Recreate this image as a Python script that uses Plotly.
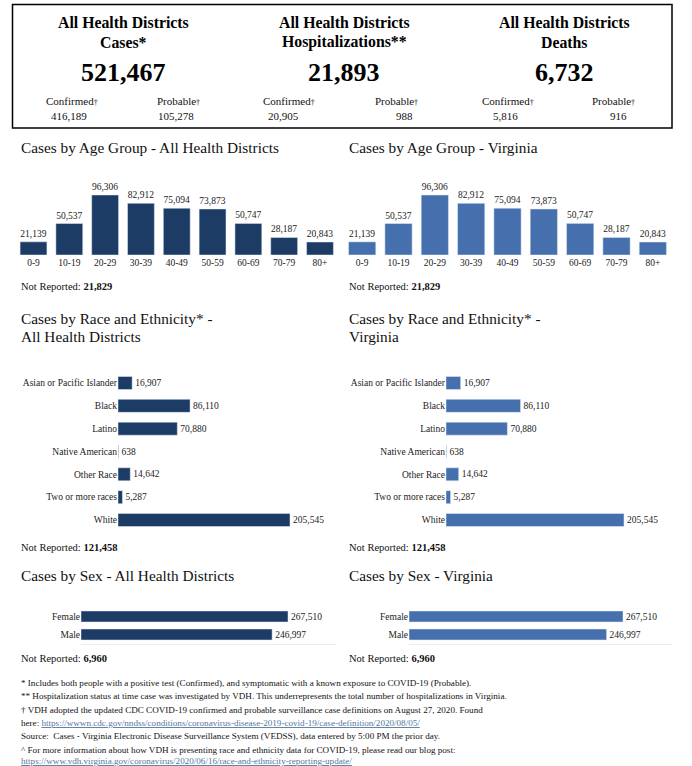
import plotly.graph_objects as go

W, H = 692, 766
FONT = "Liberation Serif, Times New Roman, Tinos, DejaVu Serif, serif"
DARK = "#1c3b65"
MID = "#4670ad"

# ---- data ----
age_groups = ["0-9", "10-19", "20-29", "30-39", "40-49", "50-59", "60-69", "70-79", "80+"]
age_cases = [21139, 50537, 96306, 82912, 75094, 73873, 50747, 28187, 20843]
age_not_reported = 21829

race_groups = ["Asian or Pacific Islander", "Black", "Latino", "Native American",
               "Other Race", "Two or more races", "White"]
race_cases = [16907, 86110, 70880, 638, 14642, 5287, 205545]
race_not_reported = 121458

sex_groups = ["Female", "Male"]
sex_cases = [267510, 246997]
sex_not_reported = 6960

header_titles = [("All Health Districts", "Cases*"),
                 ("All Health Districts", "Hospitalizations**"),
                 ("All Health Districts", "Deaths")]
header_totals = [521467, 21893, 6732]
header_confirmed = [416189, 20905, 5816]
header_probable = [105278, 988, 916]


def px(x):
    return x / W


def py(y):
    return 1 - y / H


fig = go.Figure()
ann = []
tf = dict(family=FONT, size=9.5, color="#222")
TS = 15.3

# ---- age charts ----
for i, (color, xl, xr, title) in enumerate([
        (DARK, 15.6, 337.9, "Cases by Age Group - All Health Districts"),
        (MID, 344, 671, "Cases by Age Group - Virginia")]):
    n = i + 1
    fig.add_trace(go.Bar(x=age_groups, y=age_cases, marker_color=color,
                         texttemplate="%{y:,}", textposition="outside",
                         constraintext="none", cliponaxis=False,
                         textfont=tf, xaxis=f"x{n}", yaxis=f"y{n}",
                         showlegend=False))
    fig.update_layout(**{
        f"xaxis{n}": dict(domain=[px(xl), px(xr)], type="category",
                          tickfont=tf, showline=False, showgrid=False,
                          ticks="", anchor=f"y{n}", fixedrange=True),
        f"yaxis{n}": dict(domain=[py(255), py(185)],
                          range=[0, max(age_cases) * 70 / 60], visible=False,
                          anchor=f"x{n}", fixedrange=True),
    })
    tx = 19 if i == 0 else 347
    ann.append(dict(x=px(tx), y=py(147), text=title, showarrow=False,
                    xanchor="left", yanchor="middle", xref="paper", yref="paper",
                    font=dict(family=FONT, size=TS, color="#111")))
    ann.append(dict(x=px(tx), y=py(286),
                    text=f"Not Reported: <b>{age_not_reported:,}</b>",
                    showarrow=False, xanchor="left", yanchor="middle",
                    xref="paper", yref="paper",
                    font=dict(family=FONT, size=10.5, color="#111")))

# ---- race charts ----
for i, (color, xl, xend, xr, t2) in enumerate([
        (DARK, 118, 290, 330, "All Health Districts"),
        (MID, 446, 624, 670, "Virginia")]):
    n = i + 3
    fig.add_trace(go.Bar(y=race_groups, x=race_cases, orientation="h",
                         marker_color=color, texttemplate="%{x:,}",
                         textposition="outside", constraintext="none",
                         cliponaxis=False, textfont=tf,
                         xaxis=f"x{n}", yaxis=f"y{n}", showlegend=False))
    fig.update_layout(**{
        f"xaxis{n}": dict(domain=[px(xl), px(xr)],
                          range=[0, max(race_cases) * (xr - xl) / (xend - xl)],
                          visible=False, anchor=f"y{n}", fixedrange=True),
        f"yaxis{n}": dict(domain=[py(531.4), py(371.6)], type="category",
                          autorange="reversed", tickfont=tf, showline=False,
                          showgrid=False, ticks="", anchor=f"x{n}",
                          fixedrange=True),
    })
    tx = 19 if i == 0 else 347
    ann.append(dict(x=px(tx), y=py(318), text="Cases by Race and Ethnicity* -",
                    showarrow=False, xanchor="left", yanchor="middle",
                    xref="paper", yref="paper",
                    font=dict(family=FONT, size=TS, color="#111")))
    ann.append(dict(x=px(tx), y=py(336), text=t2,
                    showarrow=False, xanchor="left", yanchor="middle",
                    xref="paper", yref="paper",
                    font=dict(family=FONT, size=TS, color="#111")))
    ann.append(dict(x=px(tx), y=py(547),
                    text=f"Not Reported: <b>{race_not_reported:,}</b>",
                    showarrow=False, xanchor="left", yanchor="middle",
                    xref="paper", yref="paper",
                    font=dict(family=FONT, size=10.5, color="#111")))

# ---- sex charts ----
for i, (color, xl, xend, xr, title) in enumerate([
        (DARK, 81, 288, 336, "Cases by Sex - All Health Districts"),
        (MID, 409, 623, 672, "Cases by Sex - Virginia")]):
    n = i + 5
    fig.add_trace(go.Bar(y=sex_groups, x=sex_cases, orientation="h",
                         marker_color=color, texttemplate="%{x:,}",
                         textposition="outside", constraintext="none",
                         cliponaxis=False, textfont=tf,
                         xaxis=f"x{n}", yaxis=f"y{n}", showlegend=False))
    fig.update_layout(**{
        f"xaxis{n}": dict(domain=[px(xl), px(xr)],
                          range=[0, max(sex_cases) * (xr - xl) / (xend - xl)],
                          showticklabels=False, showgrid=False, ticks="",
                          zeroline=False, showline=True, linecolor="#ececec",
                          linewidth=1, anchor=f"y{n}", fixedrange=True),
        f"yaxis{n}": dict(domain=[py(643.5), py(607.5)], type="category",
                          autorange="reversed", tickfont=tf, showline=False,
                          showgrid=False, ticks="", anchor=f"x{n}",
                          fixedrange=True),
    })
    tx = 19 if i == 0 else 347
    ann.append(dict(x=px(tx), y=py(575), text=title,
                    showarrow=False, xanchor="left", yanchor="middle",
                    xref="paper", yref="paper",
                    font=dict(family=FONT, size=TS, color="#111")))
    ann.append(dict(x=px(tx), y=py(658),
                    text=f"Not Reported: <b>{sex_not_reported:,}</b>",
                    showarrow=False, xanchor="left", yanchor="middle",
                    xref="paper", yref="paper",
                    font=dict(family=FONT, size=10.5, color="#111")))

# ---- header box ----
centers = [123, 344, 564]
conf_lbl_x = [72, 289, 508]
conf_val_x = [69, 283, 505]
prob_lbl_x = [178, 396, 613]
prob_val_x = [176, 404, 618]
dag = "<span style='font-size:8px'>†</span>"
for k in range(3):
    for text, yy, size in [
            (header_titles[k][0], 23, 15.8),
            (header_titles[k][1], 42, 15.8),
            (f"{header_totals[k]:,}", 73, 26)]:
        ann.append(dict(x=px(centers[k]), y=py(yy), text=f"<b>{text}</b>",
                        showarrow=False, xanchor="center", yanchor="middle",
                        xref="paper", yref="paper",
                        font=dict(family=FONT, size=size, color="#000")))
    for text, xx, yy in [
            ("Confirmed" + dag, conf_lbl_x[k], 101),
            (f"{header_confirmed[k]:,}", conf_val_x[k], 116),
            ("Probable" + dag, prob_lbl_x[k], 101),
            (f"{header_probable[k]:,}", prob_val_x[k], 116)]:
        ann.append(dict(x=px(xx), y=py(yy), text=text, showarrow=False,
                        xanchor="center", yanchor="middle",
                        xref="paper", yref="paper",
                        font=dict(family=FONT, size=11, color="#111")))

# ---- footnotes ----
LINK = "color:#55789c;text-decoration:underline"
foot = [
    "* Includes both people with a positive test (Confirmed), and symptomatic with a known exposure to COVID-19 (Probable).",
    "** Hospitalization status at time case was investigated by VDH. This underrepresents the total number of hospitalizations in Virginia.",
    "† VDH adopted the updated CDC COVID-19 confirmed and probable surveillance case definitions on August 27, 2020. Found",
    f"here: <span style='{LINK}'>https://wwwn.cdc.gov/nndss/conditions/coronavirus-disease-2019-covid-19/case-definition/2020/08/05/</span>",
    "Source:  Cases - Virginia Electronic Disease Surveillance System (VEDSS), data entered by 5:00 PM the prior day.",
    "^ For more information about how VDH is presenting race and ethnicity data for COVID-19, please read our blog post:",
    f"<span style='{LINK}'>https://www.vdh.virginia.gov/coronavirus/2020/06/16/race-and-ethnicity-reporting-update/</span>",
]
foot_y = [683, 696, 709.5, 723, 736, 749.5, 761]
for t, yy in zip(foot, foot_y):
    ann.append(dict(x=px(19), y=py(yy), text=t, showarrow=False,
                    xanchor="left", yanchor="middle", xref="paper", yref="paper",
                    font=dict(family=FONT, size=9.1, color="#111")))

fig.update_layout(
    width=W, height=H, margin=dict(l=0, r=0, t=0, b=0),
    paper_bgcolor="white", plot_bgcolor="white",
    font=dict(family=FONT, color="#111"),
    bargap=0.25, showlegend=False, annotations=ann,
    shapes=[dict(type="rect", xref="paper", yref="paper",
                 x0=px(12.5), x1=px(672), y0=py(128), y1=py(4.5),
                 line=dict(color="#000", width=1.5))],
)
for tr in fig.data:
    if tr.orientation == "h":
        tr.width = 0.57 if len(tr.y) > 2 else 0.61

fig.write_html("out.html", config={"displayModeBar": False},
               post_script="document.body.style.margin='0';document.body.style.overflow='hidden';")
